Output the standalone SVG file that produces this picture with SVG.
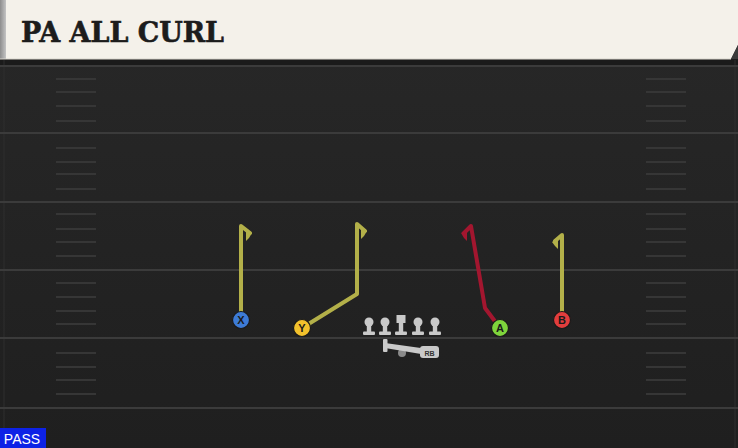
<svg xmlns="http://www.w3.org/2000/svg" width="738" height="448" viewBox="0 0 738 448">
<defs>
<linearGradient id="field" x1="0" y1="0" x2="0" y2="1">
<stop offset="0" stop-color="#282828"/>
<stop offset="1" stop-color="#1f1f1f"/>
</linearGradient>
<linearGradient id="lside" x1="0" y1="0" x2="1" y2="0">
<stop offset="0" stop-color="#8d8d8d"/>
<stop offset="1" stop-color="#c4c4c4"/>
</linearGradient>
<g id="lineman">
<circle cx="0" cy="-8" r="4.5"/>
<rect x="-2.2" y="-8" width="4.4" height="10"/>
<rect x="-6" y="1.5" width="12" height="3.5" rx="1"/>
</g>
</defs>
<style>
.yard{stroke:#3b3b3b;stroke-width:2}
.hash{stroke:#363636;stroke-width:2}
.route{fill:none;stroke-width:4;stroke-linejoin:round;stroke-linecap:round}
.olive{stroke:#b3b049}
.red{stroke:#a3162f}
.pl circle{stroke:#1a1a1a;stroke-width:1.2}
.pl text{font-family:"Liberation Sans",Arial,sans-serif;font-size:11px;font-weight:bold;fill:#1a1a1a;text-anchor:middle}
.ol{fill:#c9c9c9}
</style>
<rect width="738" height="448" fill="url(#field)"/>
<rect x="0" y="59" width="738" height="6" fill="#1b1b1b"/>
<line x1="4" y1="60" x2="4" y2="448" stroke="#2f2f2f" stroke-width="1"/>
<line x1="735" y1="60" x2="735" y2="448" stroke="#2f2f2f" stroke-width="1"/>
<g id="yardlines">
<line class="yard" x1="0" y1="66" x2="738" y2="66"/>
<line class="yard" x1="0" y1="133" x2="738" y2="133"/>
<line class="yard" x1="0" y1="202" x2="738" y2="202"/>
<line class="yard" x1="0" y1="270" x2="738" y2="270"/>
<line class="yard" x1="0" y1="338" x2="738" y2="338"/>
<line class="yard" x1="0" y1="408" x2="738" y2="408"/>
</g>
<g id="hashes">
<path class="hash" d="M56 79H96M56 92H96M56 106H96M56 121H96M56 148H96M56 162H96M56 174H96M56 189H96M56 214H96M56 229H96M56 242H96M56 256H96M56 283H96M56 297H96M56 311H96M56 324H96M56 353H96M56 367H96M56 380H96M56 394H96"/>
<path class="hash" d="M646 79H686M646 92H686M646 106H686M646 121H686M646 148H686M646 162H686M646 174H686M646 189H686M646 214H686M646 229H686M646 242H686M646 256H686M646 283H686M646 297H686M646 311H686M646 324H686M646 353H686M646 367H686M646 380H686M646 394H686"/>
</g>
<g id="header">
<polygon points="0,0 738,0 738,45 731,59 0,59" fill="#f4f1ea"/>
<polygon points="738,45 738,59 731,59" fill="#3a3a3a"/>
<rect x="0" y="0" width="6" height="59" fill="url(#lside)"/>
<line x1="0" y1="59" x2="731" y2="59" stroke="#d8d4cc" stroke-width="1"/>
<text x="21" y="42" font-family="'DejaVu Serif','Liberation Serif',serif" font-weight="bold" font-size="27" fill="#1c1c1c" stroke="#1c1c1c" stroke-width="0.6" textLength="203" lengthAdjust="spacingAndGlyphs">PA ALL CURL</text>
</g>
<g id="connectors">
<path class="route olive" d="M241 320V226L250 233"/>
<path d="M246 230L252 233L249 238L246 241Z" fill="#b3b049"/>
<path class="route olive" d="M302 328L357 294V224L365 231"/>
<path d="M361 228L367 231L364 236L361 239Z" fill="#b3b049"/>
<path class="route red" d="M500 328L485 308L471 226L464 233"/>
<path d="M467 229L461 233L464 238L467 241Z" fill="#a3162f"/>
<path class="route olive" d="M562 320V235L555 241"/>
<path d="M558 238L552 242L555 246L558 249Z" fill="#b3b049"/>
</g>
<g id="node-X" class="pl"><circle cx="241" cy="320" r="8.5" fill="#3d7bd6"/><text x="241" y="324">X</text></g>
<g id="node-Y" class="pl"><circle cx="302" cy="328" r="8.5" fill="#f2c12c"/><text x="302" y="332">Y</text></g>
<g id="node-A" class="pl"><circle cx="500" cy="328" r="8.5" fill="#7fd53c"/><text x="500" y="332">A</text></g>
<g id="node-B" class="pl"><circle cx="562" cy="320" r="8.5" fill="#e23d3d"/><text x="562" y="324">B</text></g>
<g id="node-OL" class="ol">
<use href="#lineman" x="369" y="330"/>
<use href="#lineman" x="385" y="330"/>
<rect x="396.5" y="315" width="9" height="8"/>
<rect x="398.8" y="322" width="4.4" height="10"/>
<rect x="395" y="331.5" width="12" height="3.5" rx="1"/>
<use href="#lineman" x="418" y="330"/>
<use href="#lineman" x="435" y="330"/>
</g>
<g id="node-RB">
<circle cx="402" cy="353" r="4" fill="#8a8a8a"/>
<rect x="383" y="339" width="4.5" height="13" rx="1" fill="#c9c9c9"/>
<path d="M385 343L428 349L427 355L385 348Z" fill="#c9c9c9"/>
<rect x="420" y="346" width="19" height="12" rx="3" fill="#c9c9c9"/>
<text x="429.5" y="355.5" font-family="'Liberation Sans',Arial,sans-serif" font-size="7" font-weight="bold" fill="#333" text-anchor="middle">RB</text>
</g>
<g id="pass-tag">
<rect x="0" y="428" width="46" height="20" fill="#0d22e6"/>
<text x="22" y="444" font-family="'Liberation Sans',Arial,sans-serif" font-size="14" fill="#ffffff" text-anchor="middle">PASS</text>
</g>
</svg>
